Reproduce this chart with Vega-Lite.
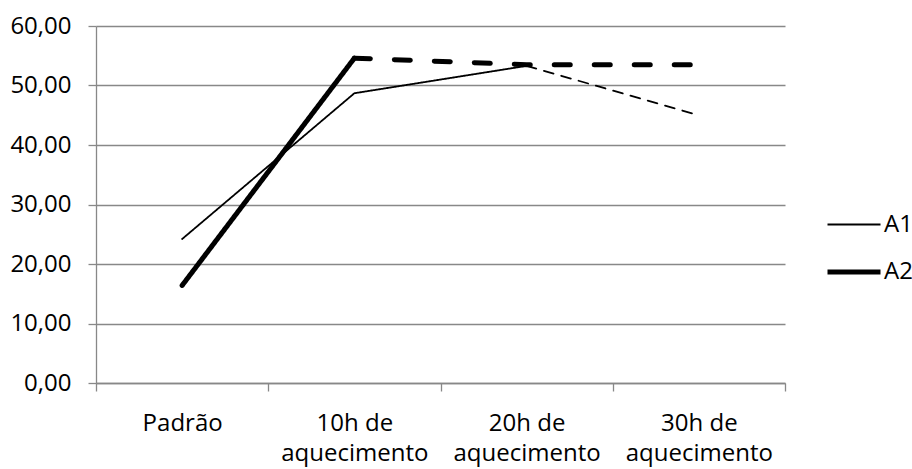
{
  "$schema": "https://vega.github.io/schema/vega-lite/v6.json",
  "autosize": {"type": "none"},
  "width": 689,
  "height": 357,
  "padding": {"left": 96, "top": 26, "right": 127, "bottom": 86},
  "background": "white",
  "config": {
    "view": {"stroke": null},
    "font": "Open Sans"
  },
  "data": {
    "values": [
      {"series": "A1", "cat": "Padrão", "value": 24.2, "seg": "A1s", "style": "solid"},
      {"series": "A1", "cat": "10h de|aquecimento", "value": 48.7, "seg": "A1s", "style": "solid"},
      {"series": "A1", "cat": "20h de|aquecimento", "value": 53.3, "seg": "A1s", "style": "solid"},
      {"series": "A1", "cat": "20h de|aquecimento", "value": 53.3, "seg": "A1d", "style": "dashA1"},
      {"series": "A1", "cat": "30h de|aquecimento", "value": 45.0, "seg": "A1d", "style": "dashA1"},
      {"series": "A2", "cat": "Padrão", "value": 16.4, "seg": "A2s", "style": "solid"},
      {"series": "A2", "cat": "10h de|aquecimento", "value": 54.6, "seg": "A2s", "style": "solid"},
      {"series": "A2", "cat": "10h de|aquecimento", "value": 54.6, "seg": "A2d", "style": "dashA2"},
      {"series": "A2", "cat": "20h de|aquecimento", "value": 53.5, "seg": "A2d", "style": "dashA2"},
      {"series": "A2", "cat": "30h de|aquecimento", "value": 53.5, "seg": "A2d", "style": "dashA2"}
    ]
  },
  "mark": {"type": "line", "color": "black", "strokeCap": "round", "strokeJoin": "miter"},
  "encoding": {
    "x": {
      "field": "cat",
      "type": "nominal",
      "sort": null,
      "bandPosition": 0.5,
      "scale": {"type": "band", "paddingInner": 0, "paddingOuter": 0},
      "axis": {
        "title": null,
        "labelAngle": 0,
        "labelExpr": "datum.value ? split(datum.value, '|') : ''",
        "labelFontSize": 24,
        "labelColor": "#000",
        "labelLineHeight": 30,
        "labelPadding": 20,
        "tickBand": "extent",
        "tickSize": 8,
        "tickColor": "#888",
        "tickWidth": 1.3,
        "domainColor": "#888",
        "domainWidth": 1.3,
        "grid": false
      }
    },
    "y": {
      "field": "value",
      "type": "quantitative",
      "scale": {"domain": [0, 60], "nice": false, "zero": true},
      "axis": {
        "title": null,
        "values": [0, 10, 20, 30, 40, 50, 60],
        "labelExpr": "replace(format(datum.value, '.2f'), '.', ',')",
        "labelFontSize": 24,
        "labelColor": "#000",
        "labelPadding": 17,
        "tickSize": 8,
        "tickColor": "#888",
        "tickWidth": 1.3,
        "domainColor": "#888",
        "domainWidth": 1.3,
        "grid": true,
        "gridColor": "#888",
        "gridWidth": 1.3
      }
    },
    "detail": {"field": "seg"},
    "strokeDash": {
      "field": "style",
      "type": "nominal",
      "scale": {"domain": ["solid", "dashA1", "dashA2"], "range": [[1, 0], [10, 8], [16, 24]]},
      "legend": null
    },
    "strokeWidth": {
      "field": "series",
      "type": "nominal",
      "scale": {"domain": ["A1", "A2"], "range": [1.8, 5]},
      "legend": {
        "title": null,
        "orient": "none",
        "legendX": 729,
        "legendY": 171,
        "padding": 0,
        "symbolType": "stroke",
        "symbolSize": 2809,
        "symbolStrokeColor": "black",
        "labelFontSize": 24,
        "labelColor": "#000",
        "labelOffset": 1,
        "rowPadding": 6
      }
    }
  }
}
